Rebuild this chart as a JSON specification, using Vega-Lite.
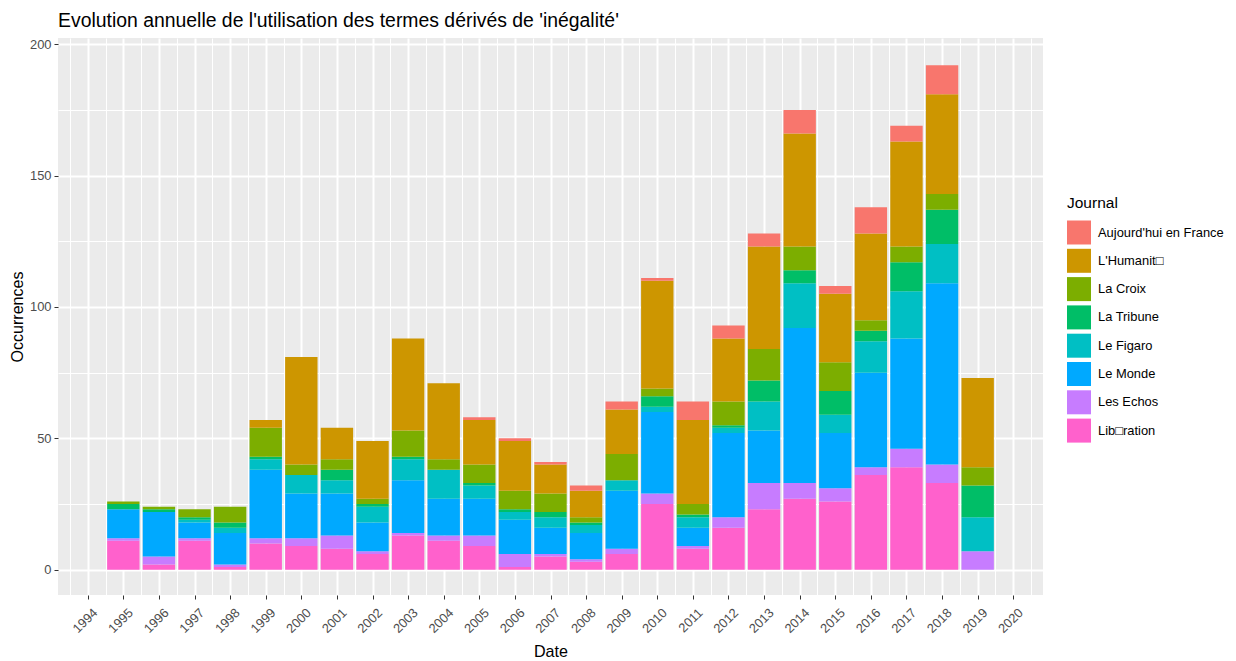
{
  "$schema": "https://vega.github.io/schema/vega-lite/v6.json",
  "width": 985,
  "height": 557,
  "autosize": {"type": "none"},
  "padding": {"left": 58, "top": 38, "right": 193, "bottom": 66},
  "background": "white",
  "title": {
    "text": "Evolution annuelle de l'utilisation des termes dérivés de 'inégalité'",
    "anchor": "start",
    "frame": "group",
    "baseline": "alphabetic",
    "offset": 12,
    "dy": 20,
    "font": "Liberation Sans",
    "fontSize": 19.4,
    "fontWeight": "normal",
    "color": "black"
  },
  "data": {
    "values": [
      {"Date": 1995, "Journal": "Lib□ration", "n": 11},
      {"Date": 1995, "Journal": "Les Echos", "n": 1},
      {"Date": 1995, "Journal": "Le Monde", "n": 11},
      {"Date": 1995, "Journal": "La Tribune", "n": 2},
      {"Date": 1995, "Journal": "La Croix", "n": 1},
      {"Date": 1996, "Journal": "Lib□ration", "n": 2},
      {"Date": 1996, "Journal": "Les Echos", "n": 3},
      {"Date": 1996, "Journal": "Le Monde", "n": 17},
      {"Date": 1996, "Journal": "La Tribune", "n": 1},
      {"Date": 1996, "Journal": "La Croix", "n": 1},
      {"Date": 1997, "Journal": "Lib□ration", "n": 11},
      {"Date": 1997, "Journal": "Les Echos", "n": 1},
      {"Date": 1997, "Journal": "Le Monde", "n": 6},
      {"Date": 1997, "Journal": "Le Figaro", "n": 1},
      {"Date": 1997, "Journal": "La Tribune", "n": 1},
      {"Date": 1997, "Journal": "La Croix", "n": 3},
      {"Date": 1998, "Journal": "Lib□ration", "n": 1},
      {"Date": 1998, "Journal": "Les Echos", "n": 1},
      {"Date": 1998, "Journal": "Le Monde", "n": 12},
      {"Date": 1998, "Journal": "Le Figaro", "n": 2},
      {"Date": 1998, "Journal": "La Tribune", "n": 2},
      {"Date": 1998, "Journal": "La Croix", "n": 6},
      {"Date": 1999, "Journal": "Lib□ration", "n": 10},
      {"Date": 1999, "Journal": "Les Echos", "n": 2},
      {"Date": 1999, "Journal": "Le Monde", "n": 26},
      {"Date": 1999, "Journal": "Le Figaro", "n": 4},
      {"Date": 1999, "Journal": "La Tribune", "n": 1},
      {"Date": 1999, "Journal": "La Croix", "n": 11},
      {"Date": 1999, "Journal": "L'Humanit□", "n": 3},
      {"Date": 2000, "Journal": "Lib□ration", "n": 9},
      {"Date": 2000, "Journal": "Les Echos", "n": 3},
      {"Date": 2000, "Journal": "Le Monde", "n": 17},
      {"Date": 2000, "Journal": "Le Figaro", "n": 7},
      {"Date": 2000, "Journal": "La Croix", "n": 4},
      {"Date": 2000, "Journal": "L'Humanit□", "n": 41},
      {"Date": 2001, "Journal": "Lib□ration", "n": 8},
      {"Date": 2001, "Journal": "Les Echos", "n": 5},
      {"Date": 2001, "Journal": "Le Monde", "n": 16},
      {"Date": 2001, "Journal": "Le Figaro", "n": 5},
      {"Date": 2001, "Journal": "La Tribune", "n": 4},
      {"Date": 2001, "Journal": "La Croix", "n": 4},
      {"Date": 2001, "Journal": "L'Humanit□", "n": 12},
      {"Date": 2002, "Journal": "Lib□ration", "n": 6},
      {"Date": 2002, "Journal": "Les Echos", "n": 1},
      {"Date": 2002, "Journal": "Le Monde", "n": 11},
      {"Date": 2002, "Journal": "Le Figaro", "n": 6},
      {"Date": 2002, "Journal": "La Tribune", "n": 1},
      {"Date": 2002, "Journal": "La Croix", "n": 2},
      {"Date": 2002, "Journal": "L'Humanit□", "n": 22},
      {"Date": 2003, "Journal": "Lib□ration", "n": 13},
      {"Date": 2003, "Journal": "Les Echos", "n": 1},
      {"Date": 2003, "Journal": "Le Monde", "n": 20},
      {"Date": 2003, "Journal": "Le Figaro", "n": 8},
      {"Date": 2003, "Journal": "La Tribune", "n": 1},
      {"Date": 2003, "Journal": "La Croix", "n": 10},
      {"Date": 2003, "Journal": "L'Humanit□", "n": 35},
      {"Date": 2004, "Journal": "Lib□ration", "n": 11},
      {"Date": 2004, "Journal": "Les Echos", "n": 2},
      {"Date": 2004, "Journal": "Le Monde", "n": 14},
      {"Date": 2004, "Journal": "Le Figaro", "n": 11},
      {"Date": 2004, "Journal": "La Croix", "n": 4},
      {"Date": 2004, "Journal": "L'Humanit□", "n": 29},
      {"Date": 2005, "Journal": "Lib□ration", "n": 9},
      {"Date": 2005, "Journal": "Les Echos", "n": 4},
      {"Date": 2005, "Journal": "Le Monde", "n": 14},
      {"Date": 2005, "Journal": "Le Figaro", "n": 5},
      {"Date": 2005, "Journal": "La Tribune", "n": 1},
      {"Date": 2005, "Journal": "La Croix", "n": 7},
      {"Date": 2005, "Journal": "L'Humanit□", "n": 17},
      {"Date": 2005, "Journal": "Aujourd'hui en France", "n": 1},
      {"Date": 2006, "Journal": "Lib□ration", "n": 1},
      {"Date": 2006, "Journal": "Les Echos", "n": 5},
      {"Date": 2006, "Journal": "Le Monde", "n": 13},
      {"Date": 2006, "Journal": "Le Figaro", "n": 3},
      {"Date": 2006, "Journal": "La Tribune", "n": 1},
      {"Date": 2006, "Journal": "La Croix", "n": 7},
      {"Date": 2006, "Journal": "L'Humanit□", "n": 19},
      {"Date": 2006, "Journal": "Aujourd'hui en France", "n": 1},
      {"Date": 2007, "Journal": "Lib□ration", "n": 5},
      {"Date": 2007, "Journal": "Les Echos", "n": 1},
      {"Date": 2007, "Journal": "Le Monde", "n": 10},
      {"Date": 2007, "Journal": "Le Figaro", "n": 4},
      {"Date": 2007, "Journal": "La Tribune", "n": 2},
      {"Date": 2007, "Journal": "La Croix", "n": 7},
      {"Date": 2007, "Journal": "L'Humanit□", "n": 11},
      {"Date": 2007, "Journal": "Aujourd'hui en France", "n": 1},
      {"Date": 2008, "Journal": "Lib□ration", "n": 3},
      {"Date": 2008, "Journal": "Les Echos", "n": 1},
      {"Date": 2008, "Journal": "Le Monde", "n": 10},
      {"Date": 2008, "Journal": "Le Figaro", "n": 3},
      {"Date": 2008, "Journal": "La Tribune", "n": 1},
      {"Date": 2008, "Journal": "La Croix", "n": 2},
      {"Date": 2008, "Journal": "L'Humanit□", "n": 10},
      {"Date": 2008, "Journal": "Aujourd'hui en France", "n": 2},
      {"Date": 2009, "Journal": "Lib□ration", "n": 6},
      {"Date": 2009, "Journal": "Les Echos", "n": 2},
      {"Date": 2009, "Journal": "Le Monde", "n": 22},
      {"Date": 2009, "Journal": "Le Figaro", "n": 4},
      {"Date": 2009, "Journal": "La Croix", "n": 10},
      {"Date": 2009, "Journal": "L'Humanit□", "n": 17},
      {"Date": 2009, "Journal": "Aujourd'hui en France", "n": 3},
      {"Date": 2010, "Journal": "Lib□ration", "n": 25},
      {"Date": 2010, "Journal": "Les Echos", "n": 4},
      {"Date": 2010, "Journal": "Le Monde", "n": 31},
      {"Date": 2010, "Journal": "Le Figaro", "n": 2},
      {"Date": 2010, "Journal": "La Tribune", "n": 4},
      {"Date": 2010, "Journal": "La Croix", "n": 3},
      {"Date": 2010, "Journal": "L'Humanit□", "n": 41},
      {"Date": 2010, "Journal": "Aujourd'hui en France", "n": 1},
      {"Date": 2011, "Journal": "Lib□ration", "n": 8},
      {"Date": 2011, "Journal": "Les Echos", "n": 1},
      {"Date": 2011, "Journal": "Le Monde", "n": 7},
      {"Date": 2011, "Journal": "Le Figaro", "n": 4},
      {"Date": 2011, "Journal": "La Tribune", "n": 1},
      {"Date": 2011, "Journal": "La Croix", "n": 4},
      {"Date": 2011, "Journal": "L'Humanit□", "n": 32},
      {"Date": 2011, "Journal": "Aujourd'hui en France", "n": 7},
      {"Date": 2012, "Journal": "Lib□ration", "n": 16},
      {"Date": 2012, "Journal": "Les Echos", "n": 4},
      {"Date": 2012, "Journal": "Le Monde", "n": 32},
      {"Date": 2012, "Journal": "Le Figaro", "n": 2},
      {"Date": 2012, "Journal": "La Tribune", "n": 1},
      {"Date": 2012, "Journal": "La Croix", "n": 9},
      {"Date": 2012, "Journal": "L'Humanit□", "n": 24},
      {"Date": 2012, "Journal": "Aujourd'hui en France", "n": 5},
      {"Date": 2013, "Journal": "Lib□ration", "n": 23},
      {"Date": 2013, "Journal": "Les Echos", "n": 10},
      {"Date": 2013, "Journal": "Le Monde", "n": 20},
      {"Date": 2013, "Journal": "Le Figaro", "n": 11},
      {"Date": 2013, "Journal": "La Tribune", "n": 8},
      {"Date": 2013, "Journal": "La Croix", "n": 12},
      {"Date": 2013, "Journal": "L'Humanit□", "n": 39},
      {"Date": 2013, "Journal": "Aujourd'hui en France", "n": 5},
      {"Date": 2014, "Journal": "Lib□ration", "n": 27},
      {"Date": 2014, "Journal": "Les Echos", "n": 6},
      {"Date": 2014, "Journal": "Le Monde", "n": 59},
      {"Date": 2014, "Journal": "Le Figaro", "n": 17},
      {"Date": 2014, "Journal": "La Tribune", "n": 5},
      {"Date": 2014, "Journal": "La Croix", "n": 9},
      {"Date": 2014, "Journal": "L'Humanit□", "n": 43},
      {"Date": 2014, "Journal": "Aujourd'hui en France", "n": 9},
      {"Date": 2015, "Journal": "Lib□ration", "n": 26},
      {"Date": 2015, "Journal": "Les Echos", "n": 5},
      {"Date": 2015, "Journal": "Le Monde", "n": 21},
      {"Date": 2015, "Journal": "Le Figaro", "n": 7},
      {"Date": 2015, "Journal": "La Tribune", "n": 9},
      {"Date": 2015, "Journal": "La Croix", "n": 11},
      {"Date": 2015, "Journal": "L'Humanit□", "n": 26},
      {"Date": 2015, "Journal": "Aujourd'hui en France", "n": 3},
      {"Date": 2016, "Journal": "Lib□ration", "n": 36},
      {"Date": 2016, "Journal": "Les Echos", "n": 3},
      {"Date": 2016, "Journal": "Le Monde", "n": 36},
      {"Date": 2016, "Journal": "Le Figaro", "n": 12},
      {"Date": 2016, "Journal": "La Tribune", "n": 4},
      {"Date": 2016, "Journal": "La Croix", "n": 4},
      {"Date": 2016, "Journal": "L'Humanit□", "n": 33},
      {"Date": 2016, "Journal": "Aujourd'hui en France", "n": 10},
      {"Date": 2017, "Journal": "Lib□ration", "n": 39},
      {"Date": 2017, "Journal": "Les Echos", "n": 7},
      {"Date": 2017, "Journal": "Le Monde", "n": 42},
      {"Date": 2017, "Journal": "Le Figaro", "n": 18},
      {"Date": 2017, "Journal": "La Tribune", "n": 11},
      {"Date": 2017, "Journal": "La Croix", "n": 6},
      {"Date": 2017, "Journal": "L'Humanit□", "n": 40},
      {"Date": 2017, "Journal": "Aujourd'hui en France", "n": 6},
      {"Date": 2018, "Journal": "Lib□ration", "n": 33},
      {"Date": 2018, "Journal": "Les Echos", "n": 7},
      {"Date": 2018, "Journal": "Le Monde", "n": 69},
      {"Date": 2018, "Journal": "Le Figaro", "n": 15},
      {"Date": 2018, "Journal": "La Tribune", "n": 13},
      {"Date": 2018, "Journal": "La Croix", "n": 6},
      {"Date": 2018, "Journal": "L'Humanit□", "n": 38},
      {"Date": 2018, "Journal": "Aujourd'hui en France", "n": 11},
      {"Date": 2019, "Journal": "Les Echos", "n": 7},
      {"Date": 2019, "Journal": "Le Figaro", "n": 13},
      {"Date": 2019, "Journal": "La Tribune", "n": 12},
      {"Date": 2019, "Journal": "La Croix", "n": 7},
      {"Date": 2019, "Journal": "L'Humanit□", "n": 34}
    ]
  },
  "resolve": {"axis": {"x": "independent", "y": "independent"}},
  "layer": [
    {
      "mark": {"type": "tick", "opacity": 0},
      "encoding": {
        "x": {
          "field": "Date", "type": "quantitative",
          "scale": {"domain": [1993.305, 2020.695], "nice": false, "zero": false},
          "axis": {
            "orient": "top", "values": [1993.5, 1994.5, 1995.5, 1996.5, 1997.5, 1998.5, 1999.5, 2000.5, 2001.5, 2002.5, 2003.5, 2004.5, 2005.5, 2006.5, 2007.5, 2008.5, 2009.5, 2010.5, 2011.5, 2012.5, 2013.5, 2014.5, 2015.5, 2016.5, 2017.5, 2018.5, 2019.5, 2020.5],
            "grid": true, "gridColor": "white", "gridWidth": 1, "gridOpacity": 1,
            "labels": false, "ticks": false, "domain": false, "title": null
          }
        },
        "y": {
          "field": "n", "type": "quantitative",
          "scale": {"domain": [-9.64, 202.4], "nice": false, "zero": false},
          "axis": {
            "orient": "right", "values": [25, 75, 125, 175],
            "grid": true, "gridColor": "white", "gridWidth": 1, "gridOpacity": 1,
            "labels": false, "ticks": false, "domain": false, "title": null
          }
        }
      }
    },
    {
      "mark": {"type": "bar", "width": 32.4},
      "encoding": {
        "x": {
          "field": "Date", "type": "quantitative",
          "axis": {
            "orient": "bottom",
            "values": [1994, 1995, 1996, 1997, 1998, 1999, 2000, 2001, 2002, 2003, 2004, 2005, 2006, 2007, 2008, 2009, 2010, 2011, 2012, 2013, 2014, 2015, 2016, 2017, 2018, 2019, 2020],
            "format": "d",
            "grid": true, "gridColor": "white", "gridWidth": 2, "gridOpacity": 1,
            "domain": false,
            "ticks": true, "tickColor": "#333333", "tickSize": 4, "tickWidth": 1,
            "labelAngle": -45, "labelAlign": "right", "labelBaseline": "top",
            "labelPadding": 7, "labelOffset": 3, "labelFont": "Liberation Sans", "labelFontSize": 12.9,
            "labelColor": "#4D4D4D", "labelOverlap": false, "labelFlush": false,
            "title": "Date", "titleFont": "Liberation Sans", "titleFontSize": 16.1,
            "titleFontWeight": "normal", "titleColor": "black",
            "titleAnchor": "middle", "titleBaseline": "alphabetic", "titleY": 61
          }
        },
        "y": {
          "field": "n", "type": "quantitative", "stack": "zero",
          "axis": {
            "orient": "left",
            "values": [0, 50, 100, 150, 200],
            "grid": true, "gridColor": "white", "gridWidth": 2, "gridOpacity": 1,
            "domain": false,
            "ticks": true, "tickColor": "#333333", "tickSize": 4, "tickWidth": 1,
            "labelPadding": 3, "labelFont": "Liberation Sans", "labelFontSize": 12.9,
            "labelColor": "#4D4D4D", "labelFlush": false,
            "title": "Occurrences", "titleFont": "Liberation Sans", "titleFontSize": 16.1,
            "titleFontWeight": "normal", "titleColor": "black",
            "titleAngle": -90, "titleAlign": "center", "titleBaseline": "alphabetic",
            "titleX": -36, "titleY": 278.5
          }
        },
        "color": {
          "field": "Journal", "type": "nominal",
          "scale": {
            "domain": ["Aujourd'hui en France", "L'Humanit□", "La Croix", "La Tribune", "Le Figaro", "Le Monde", "Les Echos", "Lib□ration"],
            "range": ["#F8766D", "#CD9600", "#7CAE00", "#00BE67", "#00BFC4", "#00A9FF", "#C77CFF", "#FF61CC"]
          },
          "legend": {
            "orient": "none", "legendX": 1009, "legendY": 158,
            "title": "Journal", "titleFont": "Liberation Sans", "titleFontSize": 15.5,
            "titleFontWeight": "normal", "titleColor": "black", "titlePadding": 9,
            "labelFont": "Liberation Sans", "labelFontSize": 12.9, "labelColor": "black",
            "labelOffset": 7,
            "symbolType": "square", "symbolSize": 576, "symbolStrokeWidth": 0,
            "symbolOpacity": 1, "rowPadding": 4.3, "padding": 0
          }
        },
        "order": {"field": "Journal", "sort": "descending"}
      }
    }
  ],
  "config": {
    "view": {"fill": "#EBEBEB", "stroke": null},
    "font": "Liberation Sans"
  }
}
